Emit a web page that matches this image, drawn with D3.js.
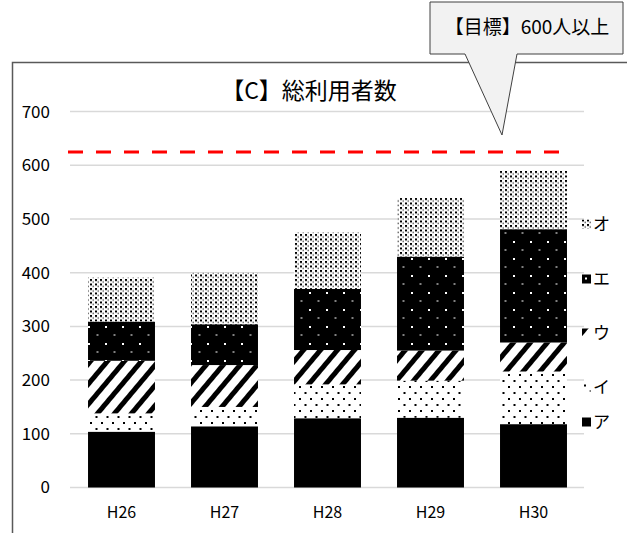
<!DOCTYPE html>
<html>
<head>
<meta charset="utf-8">
<script src="https://cdn.jsdelivr.net/npm/d3@7"></script>
<style>
  html, body { margin: 0; padding: 0; background: #fff; }
  svg { display: block; font-family: "Noto Sans CJK JP", "Noto Sans", sans-serif; }
</style>
</head>
<body>
<svg id="chart" width="627" height="533"></svg>
<script>
// Fiscal years
const years = ["H26", "H27", "H28", "H29", "H30"];
// Series names (bottom to top in the stack)
const seriesNames = ["ア", "イ", "ウ", "エ", "オ"];
// Users per series and year
const seriesA = [104, 114, 129, 130, 118];
const seriesI = [34, 36, 63, 69, 98];
const seriesU = [98, 78, 64, 56, 54];
const seriesE = [73, 76, 114, 175, 211];
const seriesO = [82, 96, 105, 109, 109];
// Value axis ticks
const yTicks = [0, 100, 200, 300, 400, 500, 600, 700];
// Target line
const targetValue = 625;
const targetLabel = "【目標】600人以上";
const chartTitle = "【C】総利用者数";

const seriesValues = [seriesA, seriesI, seriesU, seriesE, seriesO];
const rows = years.map((y, i) => {
  const r = { year: y };
  seriesNames.forEach((s, k) => r[s] = seriesValues[k][i]);
  return r;
});
const stacked = d3.stack().keys(seriesNames)(rows);

const svg = d3.select("#chart");
const defs = svg.append("defs");

// Tile builders for each series fill
const tiles = {
  "イ": { w: 11, h: 12, build: p => {
    p.append("rect").attr("width", 11).attr("height", 12).attr("fill", "#fff");
    p.append("rect").attr("x", 2).attr("y", 2).attr("width", 2).attr("height", 2).attr("fill", "#000");
    p.append("rect").attr("x", 7.5).attr("y", 8).attr("width", 2).attr("height", 2).attr("fill", "#000");
  }},
  "ウ": { w: 13, h: 13, rotate: 40, build: p => {
    p.append("rect").attr("width", 13).attr("height", 13).attr("fill", "#fff");
    p.append("rect").attr("width", 5).attr("height", 13).attr("fill", "#000");
  }},
  "エ": { w: 17, h: 17, build: p => {
    p.append("rect").attr("width", 17).attr("height", 17).attr("fill", "#000");
    p.append("rect").attr("x", 3).attr("y", 3).attr("width", 2).attr("height", 2).attr("fill", "#fff");
    p.append("rect").attr("x", 11.5).attr("y", 11.5).attr("width", 2).attr("height", 1).attr("fill", "#fff");
  }},
  "オ": { w: 5, h: 4.5, build: p => {
    p.append("rect").attr("width", 5).attr("height", 4.5).attr("fill", "#fff");
    p.append("rect").attr("width", 2).attr("height", 2).attr("fill", "#000");
    p.append("rect").attr("x", 2.5).attr("y", 2.25).attr("width", 1.5).attr("height", 1.5).attr("fill", "#666");
  }}
};

// Make a pattern fill for a series; ox/oy shift the tile origin
function fillFor(key, id, ox = 0, oy = 0) {
  const t = tiles[key];
  if (!t) return "#000";
  const p = defs.append("pattern").attr("id", id)
    .attr("patternUnits", "userSpaceOnUse")
    .attr("x", ox).attr("y", oy)
    .attr("width", t.w).attr("height", t.h);
  if (t.rotate) p.attr("patternTransform", `rotate(${t.rotate} ${ox} ${oy})`);
  t.build(p);
  return `url(#${id})`;
}
const fills = {};
seriesNames.forEach((s, i) => fills[s] = fillFor(s, "bar" + i));

// Scales
const x = d3.scaleBand().domain(years).range([70, 585]).paddingInner(0.35).paddingOuter(0.175);
const y = d3.scaleLinear().domain([0, 700]).range([487.5, 111.6]);

// Chart frame
svg.append("path")
  .attr("d", `M12.5,533 L12.5,62.5 L627,62.5`)
  .attr("fill", "none").attr("stroke", "#595959").attr("stroke-width", 1.5);

// Gridlines
svg.append("g").selectAll("line").data(yTicks).join("line")
  .attr("x1", 70).attr("x2", 584)
  .attr("y1", d => y(d)).attr("y2", d => y(d))
  .attr("stroke", "#d9d9d9").attr("stroke-width", 1.5);

// Value axis labels
const yAxis = d3.axisLeft(y).tickValues(yTicks).tickSize(0).tickPadding(0);
svg.append("g").attr("transform", "translate(50,0)").call(yAxis)
  .call(g => g.select(".domain").remove())
  .call(g => g.selectAll("text").attr("font-size", 17).attr("fill", "#000")
    .attr("font-family", "'Noto Sans CJK JP', sans-serif"));

// Year labels
const xAxis = d3.axisBottom(x).tickSize(0).tickPadding(0);
svg.append("g").attr("transform", "translate(0,507)").call(xAxis)
  .call(g => g.select(".domain").remove())
  .call(g => g.selectAll("text").attr("font-size", 16).attr("fill", "#000")
    .attr("font-family", "'Noto Sans CJK JP', sans-serif"));

// Stacked bars
svg.append("g").selectAll("g").data(stacked).join("g")
  .attr("fill", d => fills[d.key])
  .selectAll("rect").data(d => d).join("rect")
  .attr("x", d => x(d.data.year))
  .attr("width", x.bandwidth())
  .attr("y", d => y(d[1]))
  .attr("height", d => y(d[0]) - y(d[1]));

// Target line
svg.append("line")
  .attr("x1", 68).attr("x2", 562)
  .attr("y1", y(targetValue)).attr("y2", y(targetValue))
  .attr("stroke", "#ff0000").attr("stroke-width", 3)
  .attr("stroke-dasharray", "15,13");

// Title
svg.append("text").attr("x", 309).attr("y", 99)
  .attr("text-anchor", "middle").attr("font-size", 23).attr("fill", "#000")
  .text(chartTitle);

// Legend (top entry at the top); swatch tiles are anchored to each swatch
const legendY = { "オ": 224, "エ": 279, "ウ": 333, "イ": 387, "ア": 422 };
const legendX = 582;
const legend = svg.append("g").selectAll("g").data(seriesNames).join("g");
legend.append("rect")
  .attr("x", legendX).attr("y", d => legendY[d] - 4.5)
  .attr("width", 9).attr("height", 9)
  .attr("fill", (d, i) => fillFor(d, "key" + i, legendX, legendY[d] - 4.5));
legend.append("text").attr("x", legendX + 11).attr("y", d => legendY[d]).attr("dy", "0.35em")
  .attr("font-size", 17).attr("fill", "#000").text(d => d);

// Callout with pointer toward the target line
const tip = [502, 135];
svg.append("path")
  .attr("d", `M430,2 L623,2 L623,54 L517,54 L${tip[0]},${tip[1]} L465,54 L430,54 Z`)
  .attr("fill", "#f2f2f2").attr("stroke", "#404040").attr("stroke-width", 1);
svg.append("text").attr("x", 527).attr("y", 34)
  .attr("text-anchor", "middle").attr("font-size", 19).attr("fill", "#000")
  .text(targetLabel);
</script>
</body>
</html>
